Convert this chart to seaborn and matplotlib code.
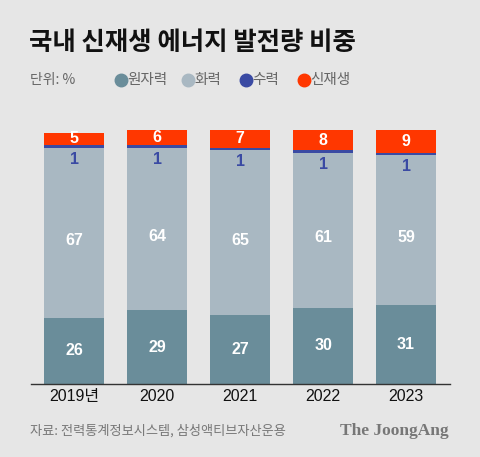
import pandas as pd
import matplotlib
matplotlib.use("Agg")
import matplotlib.pyplot as plt
from matplotlib.lines import Line2D
import seaborn as sns

# data (%)
years = ["2019년", "2020", "2021", "2022", "2023"]
nuclear = [26, 29, 27, 30, 31]
thermal = [67, 64, 65, 61, 59]
hydro = [1, 1, 1, 1, 1]
renew = [5, 6, 7, 8, 9]

series_names = ["원자력", "화력", "수력", "신재생"]
colors = ["#6a8d9a", "#a9b8c2", "#3a4aa3", "#ff3700"]
BG = "#e6e6e6"
NUM_FONT = ["Liberation Sans", "Noto Sans CJK KR"]

sns.set_style("white")
plt.rcParams["font.family"] = ["Noto Sans CJK KR", "DejaVu Sans"]

df = pd.DataFrame({"year": years, "nuclear": nuclear, "thermal": thermal,
                   "hydro": hydro, "renew": renew})
df["c1"] = df["nuclear"]
df["c2"] = df["c1"] + df["thermal"]
df["c3"] = df["c2"] + df["hydro"]
df["c4"] = df["c3"] + df["renew"]

fig = plt.figure(figsize=(4.8, 4.57), dpi=100, facecolor=BG)
ax = fig.add_axes([31 / 480, 0.16, 419 / 480, 0.7155 - 0.16])
ax.set_facecolor(BG)

# overlay cumulative bars, tallest first
for col, c in zip(["c4", "c3", "c2", "c1"], colors[::-1]):
    sns.barplot(data=df, x="year", y=col, color=c, width=0.72,
                saturation=1, linewidth=0, ax=ax)

# labels
lbl = dict(ha="center", va="center", fontsize=11.5, fontweight="bold", family=NUM_FONT)
for i in range(len(years)):
    ax.text(i, nuclear[i] / 2, str(nuclear[i]), color="white", **lbl)
    ax.text(i, df["c1"][i] + thermal[i] / 2 - 3, str(thermal[i]), color="white", **lbl)
    ax.text(i, df["c2"][i] - 4.5, str(hydro[i]), color=colors[2], **lbl)
    ax.text(i, df["c3"][i] + renew[i] / 2, str(renew[i]), color="white", **lbl)

ax.set_xlim(-0.52, 4.53)
ax.set_ylim(0, 100)
ax.set_xlabel("")
ax.set_ylabel("")
ax.set_yticks([])
ax.tick_params(axis="x", length=0, labelsize=11.5, pad=4, labelcolor="#111111")
for t in ax.get_xticklabels():
    t.set_family(NUM_FONT)
sns.despine(ax=ax, left=True)
ax.spines["bottom"].set_color("#333333")
ax.spines["bottom"].set_linewidth(1.0)

# title and legend row
fig.text(29 / 480, 1 - 43 / 457, "국내 신재생 에너지 발전량 비중", fontsize=18.3,
         fontweight="black", color="#111111", va="center", ha="left")
fig.text(30 / 480, 1 - 80 / 457, "단위: %", fontsize=10, color="#666666",
         va="center", ha="left")
leg_x = [121, 188, 246, 304]
for x, name, c in zip(leg_x, series_names, colors):
    fig.add_artist(Line2D([x / 480], [1 - 80 / 457], marker="o", markersize=9,
                          color=c, linestyle="none", transform=fig.transFigure))
    fig.text((x + 6) / 480, 1 - 80 / 457, name, fontsize=10.5, color="#666666",
             va="center", ha="left")

# footer
fig.text(30 / 480, 1 - 431 / 457, "자료: 전력통계정보시스템, 삼성액티브자산운용",
         fontsize=9.5, color="#777777", va="center", ha="left")
fig.text(449 / 480, 1 - 431 / 457, "The JoongAng", fontsize=12.5,
         family="Liberation Serif", fontweight="bold", color="#777777",
         va="center", ha="right")

fig.savefig("out.png", dpi=100, facecolor=BG)
